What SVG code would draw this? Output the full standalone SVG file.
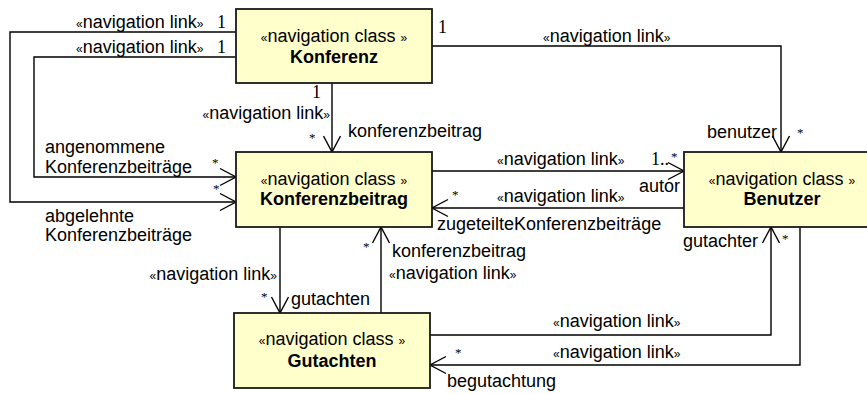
<svg xmlns="http://www.w3.org/2000/svg" width="867" height="394" viewBox="0 0 867 394">
<style>
  .box { fill: #ffffcc; stroke: #1a1a1a; stroke-width: 1.8; }
  .st { font-family: "Liberation Sans", Arial, sans-serif; font-size: 18px; fill: #000; }
  .nm { font-family: "Liberation Sans", Arial, sans-serif; font-size: 18px; font-weight: bold; fill: #000; }
  .lb { font-family: "Liberation Sans", Arial, sans-serif; font-size: 18px; fill: #000; }
  .g { font-size: 12px; }
  .num { font-family: "Liberation Serif", "Times New Roman", serif; font-size: 18px; fill: #000; }
  .ast { font-family: "Liberation Serif", "Times New Roman", serif; font-size: 13px; fill: #000; }
  .ln { fill: none; stroke: #000; stroke-width: 1.4; }
  .mid { text-anchor: middle; }
  .end { text-anchor: end; }
</style>
<defs>
  <marker id="arr" markerUnits="userSpaceOnUse" markerWidth="20" markerHeight="20" viewBox="-18 -10 20 20" refX="0" refY="0" orient="auto">
    <path d="M-16,-8.5 L0,0 L-16,8.5" fill="none" stroke="#000" stroke-width="1.4"/>
  </marker>
</defs>

<g id="connectors">
  <polyline class="ln" points="236,32 10,32 10,202 236,202" marker-end="url(#arr)"/>
  <polyline class="ln" points="236,57 34,57 34,177 236,177" marker-end="url(#arr)"/>
  <polyline class="ln" points="332,83 332,152" marker-end="url(#arr)"/>
  <polyline class="ln" points="432,46 781,46 781,152" marker-end="url(#arr)"/>
  <polyline class="ln" points="432,171 684,171" marker-end="url(#arr)"/>
  <polyline class="ln" points="684,208 432,208" marker-end="url(#arr)"/>
  <polyline class="ln" points="280,227 280,313" marker-end="url(#arr)"/>
  <polyline class="ln" points="381,313 381,227" marker-end="url(#arr)"/>
  <polyline class="ln" points="430,335 771,335 771,227" marker-end="url(#arr)"/>
  <polyline class="ln" points="800,227 800,365 430,365" marker-end="url(#arr)"/>

  <!-- labels -->
  <text class="lb" x="76" y="28"><tspan class="g">«</tspan>navigation link<tspan class="g">»</tspan></text>
  <text class="num" x="217" y="28">1</text>
  <text class="lb" x="76" y="53"><tspan class="g">«</tspan>navigation link<tspan class="g">»</tspan></text>
  <text class="num" x="217" y="53">1</text>

  <text class="lb" x="45" y="153">angenommene</text>
  <text class="lb" x="45" y="173">Konferenzbeiträge</text>
  <text class="ast" x="212" y="167">*</text>
  <text class="ast" x="213" y="193">*</text>
  <text class="lb" x="45" y="222">abgelehnte</text>
  <text class="lb" x="45" y="241">Konferenzbeiträge</text>

  <text class="num" x="312" y="98">1</text>
  <text class="lb end" x="330" y="119"><tspan class="g">«</tspan>navigation link<tspan class="g">»</tspan></text>
  <text class="ast" x="309" y="142">*</text>
  <text class="lb" x="348" y="137">konferenzbeitrag</text>

  <text class="num" x="438" y="33">1</text>
  <text class="lb" x="543" y="42"><tspan class="g">«</tspan>navigation link<tspan class="g">»</tspan></text>
  <text class="lb end" x="777" y="138">benutzer</text>
  <text class="ast" x="797" y="137">*</text>

  <text class="lb" x="497" y="165"><tspan class="g">«</tspan>navigation link<tspan class="g">»</tspan></text>
  <text class="num" x="651" y="165">1..</text>
  <text class="ast" x="671" y="161">*</text>
  <text class="lb" x="639" y="192">autor</text>

  <text class="ast" x="452" y="199">*</text>
  <text class="lb" x="497" y="202"><tspan class="g">«</tspan>navigation link<tspan class="g">»</tspan></text>
  <text class="lb" x="437" y="230">zugeteilteKonferenzbeiträge</text>

  <text class="lb end" x="277" y="280"><tspan class="g">«</tspan>navigation link<tspan class="g">»</tspan></text>
  <text class="ast" x="261" y="301">*</text>
  <text class="lb" x="291" y="305">gutachten</text>

  <text class="ast" x="363" y="251">*</text>
  <text class="lb" x="392" y="257">konferenzbeitrag</text>
  <text class="lb" x="389" y="279"><tspan class="g">«</tspan>navigation link<tspan class="g">»</tspan></text>

  <text class="lb" x="553" y="327"><tspan class="g">«</tspan>navigation link<tspan class="g">»</tspan></text>
  <text class="lb" x="683" y="247">gutachter</text>
  <text class="ast" x="782" y="243">*</text>

  <text class="ast" x="455" y="357">*</text>
  <text class="lb" x="553" y="358"><tspan class="g">«</tspan>navigation link<tspan class="g">»</tspan></text>
  <text class="lb" x="447" y="387">begutachtung</text>
</g>

<g id="konferenz">
  <rect class="box" x="236" y="9" width="196" height="74"/>
  <text class="st mid" x="334" y="42"><tspan class="g">«</tspan>navigation class <tspan class="g">»</tspan></text>
  <text class="nm mid" x="334" y="63">Konferenz</text>
</g>
<g id="konferenzbeitrag">
  <rect class="box" x="236" y="152" width="196" height="75"/>
  <text class="st mid" x="334" y="185"><tspan class="g">«</tspan>navigation class <tspan class="g">»</tspan></text>
  <text class="nm mid" x="334" y="205">Konferenzbeitrag</text>
</g>
<g id="benutzer">
  <rect class="box" x="684" y="152" width="196" height="75"/>
  <text class="st mid" x="782" y="185"><tspan class="g">«</tspan>navigation class <tspan class="g">»</tspan></text>
  <text class="nm mid" x="782" y="205">Benutzer</text>
</g>
<g id="gutachten">
  <rect class="box" x="234" y="313" width="196" height="75"/>
  <text class="st mid" x="332" y="345"><tspan class="g">«</tspan>navigation class <tspan class="g">»</tspan></text>
  <text class="nm mid" x="332" y="367">Gutachten</text>
</g>
</svg>
